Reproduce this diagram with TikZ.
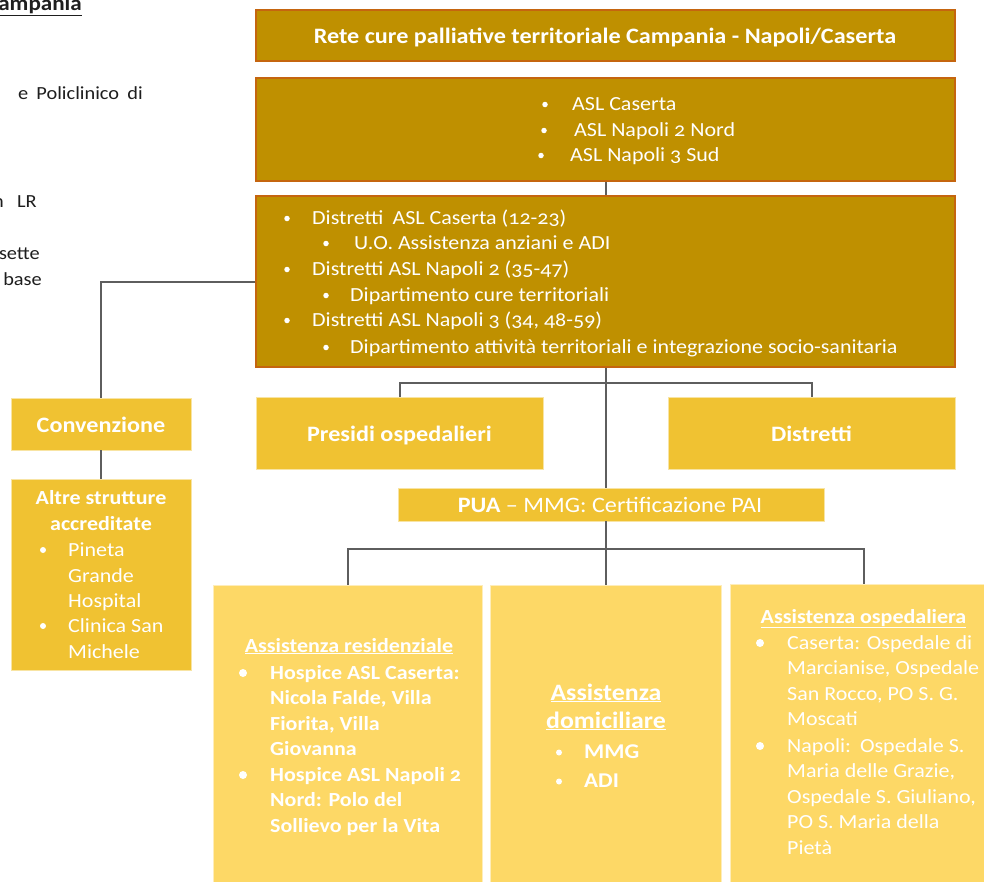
\documentclass[tikz,border=0pt]{standalone}
\usepackage{fontspec}
\setmainfont{Carlito}[Numbers=OldStyle, FakeStretch=1.1]
\definecolor{darkgold}{HTML}{BF9000}
\definecolor{goldedge}{HTML}{C5650F}
\definecolor{midgold}{HTML}{F0C232}
\definecolor{lightgold}{HTML}{FDD866}
\definecolor{linegray}{HTML}{5E5E5E}
\definecolor{bgtext}{HTML}{1E1E1E}
\newcommand\fs[1]{\fontsize{#1}{#1}\selectfont}
\newcommand\tx[4]{\node[txt] (#1) at (#2,#3) {#4};}
\newcommand\tc[4]{\node[txtc] (#1) at (#2,#3) {#4};}
\newcommand\bu[4]{\node[bul, minimum size=#4] (#1) at (#2,#3) {};}
\tikzset{
  darkbox/.style={fill=darkgold, draw=goldedge, line width=1.2pt, inner sep=0},
  midbox/.style={fill=midgold, draw=white!55!midgold, line width=0.8pt, inner sep=0},
  lightbox/.style={fill=lightgold, draw=white!55!lightgold, line width=0.8pt, inner sep=0},
  txt/.style={anchor=base west, inner sep=0, text=white},
  txtc/.style={anchor=base, inner sep=0, text=white},
  bul/.style={circle, fill=white, draw=none, inner sep=0},
  bgt/.style={anchor=base east, inner sep=0, text=bgtext},
  conn/.style={draw=linegray, line width=2pt},
}
\begin{document}
\begin{tikzpicture}[x=1pt, y=-1pt]
\useasboundingbox (0,0) rectangle (984,881);
\clip (0,0) rectangle (984,881);

% background fragments (cut off at the picture's edges, as in the reference)
\node[bgt] (bg1) at (82,10) {\fs{21}\bfseries\underline{Campania}};
\node[bgt] (bg2) at (143,99) {\fs{18.5}e\hspace{0.45em}Policlinico\hspace{0.45em}di};
\node[bgt] (bg3) at (37,207) {\fs{18.5}n\hspace{0.72em}LR};
\node[bgt] (bg4) at (40,259) {\fs{18.5}sette};
\node[bgt] (bg5) at (42,285) {\fs{18.5}base};

% boxes
\node[darkbox, minimum width=699, minimum height=51] (title) at (605.5,35.5) {};
\node[darkbox, minimum width=699, minimum height=103] (asl) at (605.5,129.5) {};
\node[darkbox, minimum width=699, minimum height=171] (dist) at (605.5,281.5) {};
\node[midbox, minimum width=180, minimum height=52] (conv) at (101,424) {};
\node[midbox, minimum width=180, minimum height=191] (altre) at (101,574.5) {};
\node[midbox, minimum width=287, minimum height=72] (pres) at (399.5,433) {};
\node[midbox, minimum width=287, minimum height=72] (distr) at (811.5,433) {};
\node[midbox, minimum width=426, minimum height=33] (pua) at (611,504.5) {};
\node[lightbox, minimum width=269, minimum height=310] (res) at (347.5,740) {};
\node[lightbox, minimum width=231, minimum height=310] (dom) at (605.5,740) {};
\node[lightbox, minimum width=268, minimum height=310] (osp) at (864,739) {};

% connectors
\coordinate (b1) at (605.5,383);
\coordinate (b2) at (605.5,549);
\draw[conn] (asl.south) -- (dist.north);
\draw[conn] (dist.west) -| (conv.north);
\draw[conn] (conv.south) -- (altre.north);
\draw[conn] (b1) -| (pres.north);
\draw[conn] (b1) -| (distr.north);
\draw[conn] (dist.south) -- (dist.south |- pua.north);
\draw[conn] (dom.north |- pua.south) -- (dom.north);
\draw[conn] (b2) -| (res.north);
\draw[conn] (b2) -| (osp.north);

% title
\tc{t0}{605}{43}{\fs{22}\bfseries Rete cure palliative territoriale Campania - Napoli/Caserta}

% ASL box
\bu{a1b}{545}{104.5}{5.5}\tx{a1}{572}{110}{\fs{20}ASL Caserta}
\bu{a2b}{544}{130.5}{5.5}\tx{a2}{574}{136}{\fs{20}ASL Napoli 2 Nord}
\bu{a3b}{541}{155.5}{5.5}\tx{a3}{570}{161}{\fs{20}ASL Napoli 3 Sud}

% Distretti box
\bu{d1b}{287}{218.5}{5.5}\tx{d1}{312}{224}{\fs{20}Distretti\hspace{0.45em}ASL Caserta (12-23)}
\bu{d2b}{326}{243.5}{5.5}\tx{d2}{354}{249}{\fs{20}U.O. Assistenza anziani e ADI}
\bu{d3b}{287}{269.5}{5.5}\tx{d3}{312}{275}{\fs{20}Distretti ASL Napoli 2 (35-47)}
\bu{d4b}{326}{295.5}{5.5}\tx{d4}{350}{301}{\fs{20}Dipartimento cure territoriali}
\bu{d5b}{287}{320.5}{5.5}\tx{d5}{312}{326}{\fs{20}Distretti ASL Napoli 3 (34, 48-59)}
\bu{d6b}{326}{347.5}{5.5}\tx{d6}{350}{353}{\fs{20}Dipartimento attività territoriali e integrazione socio-sanitaria}

% Convenzione / Altre
\tc{c0}{101}{432}{\fs{22}\bfseries Convenzione}
\tc{al1}{101}{504}{\fs{20}\bfseries Altre strutture}
\tc{al2}{101}{530}{\fs{20}\bfseries accreditate}
\bu{p1b}{43}{550}{6}\tx{p1}{68}{556.5}{\fs{20}Pineta}
\tx{p2}{68}{582}{\fs{20}Grande}
\tx{p3}{68}{607.5}{\fs{20}Hospital}
\bu{p4b}{43}{626}{6}\tx{p4}{68}{632.5}{\fs{20}Clinica San}
\tx{p5}{68}{658}{\fs{20}Michele}

% Presidi / Distretti / PUA
\tc{pr}{399.5}{441}{\fs{22}\bfseries Presidi ospedalieri}
\tc{ds}{811.5}{441}{\fs{22}\bfseries Distretti}
\tc{pu}{610}{512}{\fs{22}\textbf{PUA} – MMG: Certificazione PAI}

% Assistenza residenziale
\tc{r0}{349}{652}{\fs{20}\bfseries\underline{Assistenza residenziale}}
\bu{r1b}{243}{673}{8}\tx{r1}{270}{679}{\fs{20}\bfseries Hospice ASL Caserta:}
\tx{r2}{270}{704.5}{\fs{20}\bfseries Nicola Falde, Villa}
\tx{r3}{270}{730}{\fs{20}\bfseries Fiorita, Villa}
\tx{r4}{270}{755.5}{\fs{20}\bfseries Giovanna}
\bu{r5b}{243}{775}{8}\tx{r5}{270}{781}{\fs{20}\bfseries Hospice ASL Napoli 2}
\tx{r6}{270}{806.5}{\fs{20}\bfseries Nord: Polo del}
\tx{r7}{270}{832}{\fs{20}\bfseries Sollievo per la Vita}

% Assistenza domiciliare
\tc{m0}{606}{700}{\fs{23.5}\bfseries\underline{Assistenza}}
\tc{m1}{606}{728}{\fs{23.5}\bfseries\underline{domiciliare}}
\bu{m2b}{559}{752.5}{6}\tx{m2}{584}{758}{\fs{21}\bfseries MMG}
\bu{m3b}{559}{781.5}{6}\tx{m3}{584}{787}{\fs{21}\bfseries ADI}

% Assistenza ospedaliera
\tc{o0}{863.5}{623}{\fs{20}\bfseries\underline{Assistenza ospedaliera}}
\bu{o1b}{760}{643}{8}\tx{o1}{787}{649}{\fs{20}Caserta: Ospedale di}
\tx{o2}{787}{674.5}{\fs{20}Marcianise, Ospedale}
\tx{o3}{787}{700}{\fs{20}San Rocco, PO S. G.}
\tx{o4}{787}{725.5}{\fs{20}Moscati}
\bu{o5b}{760}{746}{8}\tx{o5}{787}{752}{\fs{20}Napoli:\hspace{0.45em}Ospedale S.}
\tx{o6}{787}{777.5}{\fs{20}Maria delle Grazie,}
\tx{o7}{787}{803}{\fs{20}Ospedale S. Giuliano,}
\tx{o8}{787}{828.5}{\fs{20}PO S. Maria della}
\tx{o9}{787}{854}{\fs{20}Pietà}
\end{tikzpicture}
\end{document}
